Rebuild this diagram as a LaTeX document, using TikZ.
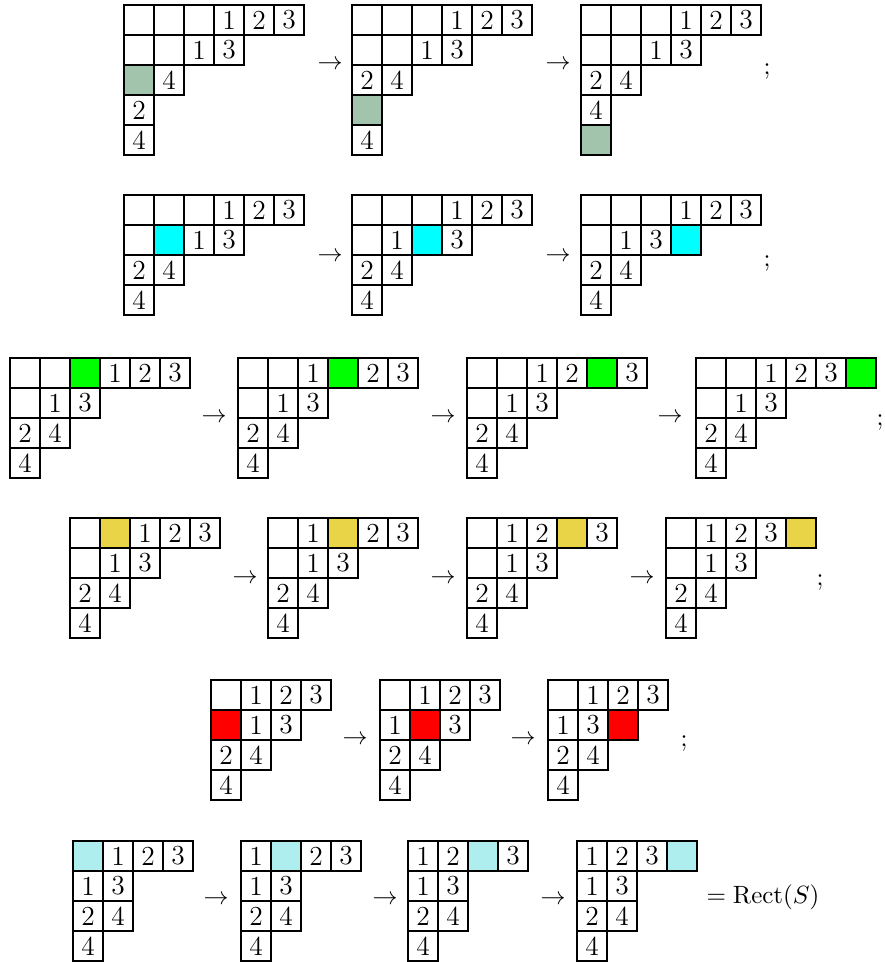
\documentclass[tikz,border=0pt]{standalone}
\definecolor{cGray}{RGB}{163,196,172}
\definecolor{cCyan}{RGB}{0,255,255}
\definecolor{cGreen}{RGB}{0,255,0}
\definecolor{cYellow}{RGB}{233,212,71}
\definecolor{cRed}{RGB}{255,0,0}
\definecolor{cPale}{RGB}{175,238,238}
\tikzset{
  cell/.style={draw=black, line width=0.5pt, minimum width=12pt, minimum height=12pt,
    inner sep=0pt, outer sep=0pt, font=\fontsize{11}{13}\selectfont},
  ke/.style={}, k1/.style={}, k2/.style={}, k3/.style={}, k4/.style={},
  ka/.style={fill=cGray}, kb/.style={fill=cCyan}, kc/.style={fill=cGreen},
  kd/.style={fill=cYellow}, kf/.style={fill=cRed}, kp/.style={fill=cPale},
  arr/.style={inner sep=0pt, font=\fontsize{10}{12}\selectfont},
  semi/.style={inner sep=0pt, anchor=base, font=\fontsize{10}{12}\selectfont},
}
\expandafter\def\csname cte\endcsname{}
\expandafter\def\csname ct1\endcsname{1}
\expandafter\def\csname ct2\endcsname{2}
\expandafter\def\csname ct3\endcsname{3}
\expandafter\def\csname ct4\endcsname{4}
\expandafter\def\csname cta\endcsname{}
\expandafter\def\csname ctb\endcsname{}
\expandafter\def\csname ctc\endcsname{}
\expandafter\def\csname ctd\endcsname{}
\expandafter\def\csname ctf\endcsname{}
\expandafter\def\csname ctp\endcsname{}
% #1 name, #2 x, #3 y (top-left, pixels), #4 rows
\newcommand{\youngtab}[4]{%
  \foreach \rw [count=\r] in {#4} {%
    \foreach \c [count=\k] in \rw {%
      \edef\tmpcell{\noexpand\node[cell,k\c] (#1-\r-\k) at ({#2+30*\k-15},{#3+30*\r-15}) {\csname ct\c\endcsname};}%
      \tmpcell
    }%
  }%
}
\begin{document}
\begin{tikzpicture}[x=0.4pt,y=-0.4pt]
\useasboundingbox (0,0) rectangle (885,962);
% Row 1
\youngtab{A1}{124}{5}{{e,e,e,1,2,3},{e,e,1,3},{a,4},{2},{4}}
\youngtab{A2}{352}{5}{{e,e,e,1,2,3},{e,e,1,3},{2,4},{a},{4}}
\youngtab{A3}{581}{5}{{e,e,e,1,2,3},{e,e,1,3},{2,4},{4},{a}}
\node[arr] (aA1) at (330,65) {$\to$};
\node[arr] (aA2) at (558,65) {$\to$};
\node[semi] (sA) at (767,74) {$;$};
% Row 2
\youngtab{B1}{124}{195}{{e,e,e,1,2,3},{e,b,1,3},{2,4},{4}}
\youngtab{B2}{352}{195}{{e,e,e,1,2,3},{e,1,b,3},{2,4},{4}}
\youngtab{B3}{581}{195}{{e,e,e,1,2,3},{e,1,3,b},{2,4},{4}}
\node[arr] (aB1) at (330,257) {$\to$};
\node[arr] (aB2) at (558,257) {$\to$};
\node[semi] (sB) at (767,266) {$;$};
% Row 3
\youngtab{C1}{10}{358}{{e,e,c,1,2,3},{e,1,3},{2,4},{4}}
\youngtab{C2}{238}{358}{{e,e,1,c,2,3},{e,1,3},{2,4},{4}}
\youngtab{C3}{467}{358}{{e,e,1,2,c,3},{e,1,3},{2,4},{4}}
\youngtab{C4}{696}{358}{{e,e,1,2,3,c},{e,1,3},{2,4},{4}}
\node[arr] (aC1) at (214,418) {$\to$};
\node[arr] (aC2) at (443,418) {$\to$};
\node[arr] (aC3) at (670,418) {$\to$};
\node[semi] (sC) at (880,425) {$;$};
% Row 4
\youngtab{D1}{70}{518}{{e,d,1,2,3},{e,1,3},{2,4},{4}}
\youngtab{D2}{268}{518}{{e,1,d,2,3},{e,1,3},{2,4},{4}}
\youngtab{D3}{467}{518}{{e,1,2,d,3},{e,1,3},{2,4},{4}}
\youngtab{D4}{666}{518}{{e,1,2,3,d},{e,1,3},{2,4},{4}}
\node[arr] (aD1) at (245,579) {$\to$};
\node[arr] (aD2) at (443,579) {$\to$};
\node[arr] (aD3) at (642,579) {$\to$};
\node[semi] (sD) at (820,585) {$;$};
% Row 5
\youngtab{E1}{211}{680}{{e,1,2,3},{f,1,3},{2,4},{4}}
\youngtab{E2}{380}{680}{{e,1,2,3},{1,f,3},{2,4},{4}}
\youngtab{E3}{548}{680}{{e,1,2,3},{1,3,f},{2,4},{4}}
\node[arr] (aE1) at (355,740) {$\to$};
\node[arr] (aE2) at (523,740) {$\to$};
\node[semi] (sE) at (684,746) {$;$};
% Row 6
\youngtab{F1}{73}{841}{{p,1,2,3},{1,3},{2,4},{4}}
\youngtab{F2}{241}{841}{{1,p,2,3},{1,3},{2,4},{4}}
\youngtab{F3}{408}{841}{{1,2,p,3},{1,3},{2,4},{4}}
\youngtab{F4}{577}{841}{{1,2,3,p},{1,3},{2,4},{4}}
\node[arr] (aF1) at (216,900) {$\to$};
\node[arr] (aF2) at (385,900) {$\to$};
\node[arr] (aF3) at (553,900) {$\to$};
\node[semi, anchor=base west] (rect) at (706,903) {$=\mathrm{Rect}(S)$};
\end{tikzpicture}
\end{document}
